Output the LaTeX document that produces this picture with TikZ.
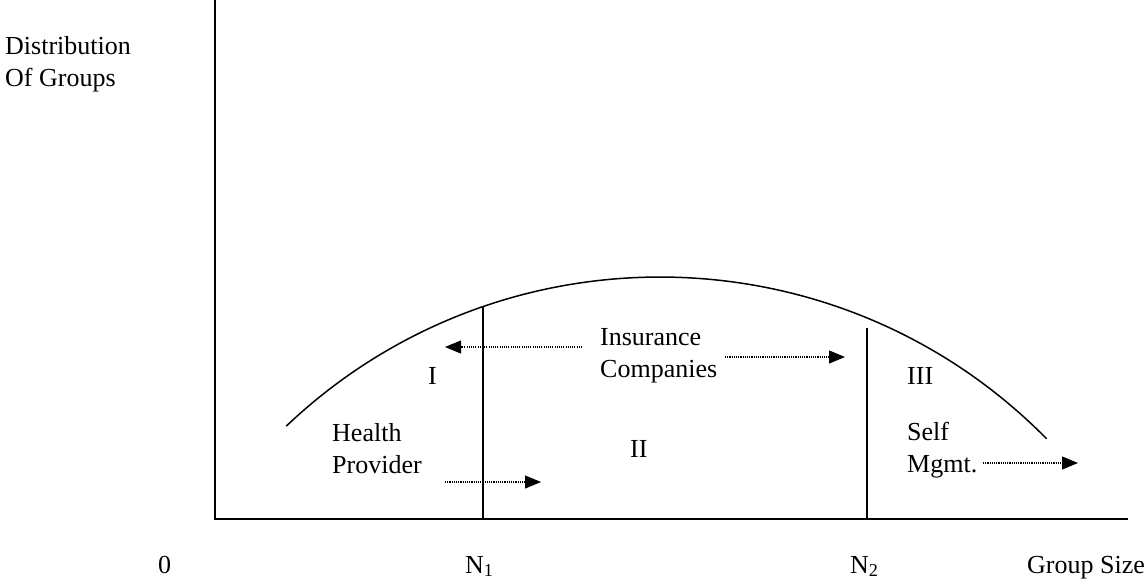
\documentclass[tikz,border=0pt]{standalone}
\usepackage{fontspec}
\setmainfont{Liberation Serif}
\usetikzlibrary{arrows.meta}
\begin{document}
\begin{tikzpicture}[x=1pt,y=-1pt,
  txt/.style={anchor=base west, inner sep=0pt, font=\fontsize{26}{31}\selectfont},
  axisline/.style={line width=1.8pt, line join=miter},
  divider/.style={line width=1.4pt},
  curveline/.style={line width=1.5pt},
  dotarrow/.style={line width=1.1pt, dash pattern=on 1.1pt off 1.1pt,
    -{Triangle[length=16pt,width=13pt]}}]
\useasboundingbox (0,0) rectangle (1144,581);

% axes
\coordinate (ytop) at (215,0);
\coordinate (O) at (215,519);
\coordinate (xend) at (1128,519);
\draw[axisline] (ytop) -- (O) -- (xend);

% dividers
\coordinate (n1top) at (483,307);
\coordinate (n1bot) at (483,519);
\coordinate (n2top) at (867,328);
\coordinate (n2bot) at (867,519);
\draw[divider] (n1top) -- (n1bot);
\draw[divider] (n2top) -- (n2bot);

% distribution curve
\coordinate (cc) at (660,820);
\draw[curveline] (cc) ++(-133.5:543) arc[start angle=-133.5, end angle=-44.6, radius=543];

% labels
\node[txt] (dist1) at (5,54) {Distribution};
\node[txt] (dist2) at (5,86) {Of Groups};
\node[txt] (zero) at (158,573) {0};
\node[txt] (n1) at (465,573) {N\textsubscript{1}};
\node[txt] (n2) at (850,573) {N\textsubscript{2}};
\node[txt] (gs) at (1027,573) {Group Size};
\node[txt] (r1) at (428,384) {I};
\node[txt] (r2) at (630,457) {II};
\node[txt] (r3) at (907,384) {III};
\node[txt] (ins1) at (600,345) {Insurance};
\node[txt] (ins2) at (600,377) {Companies};
\node[txt] (hp1) at (332,441) {Health};
\node[txt] (hp2) at (332,473) {Provider};
\node[txt] (sm1) at (907,440) {Self};
\node[txt] (sm2) at (907,472) {Mgmt.};

% dotted arrows
\coordinate (lA) at (582,347);
\coordinate (lB) at (445,347);
\coordinate (rA) at (725,357);
\coordinate (rB) at (845,357);
\coordinate (hA) at (445,482);
\coordinate (hB) at (541,482);
\coordinate (sA) at (983,463);
\coordinate (sB) at (1078,463);
\draw[dotarrow] (lA) -- (lB);
\draw[dotarrow] (rA) -- (rB);
\draw[dotarrow] (hA) -- (hB);
\draw[dotarrow] (sA) -- (sB);
\end{tikzpicture}
\end{document}
